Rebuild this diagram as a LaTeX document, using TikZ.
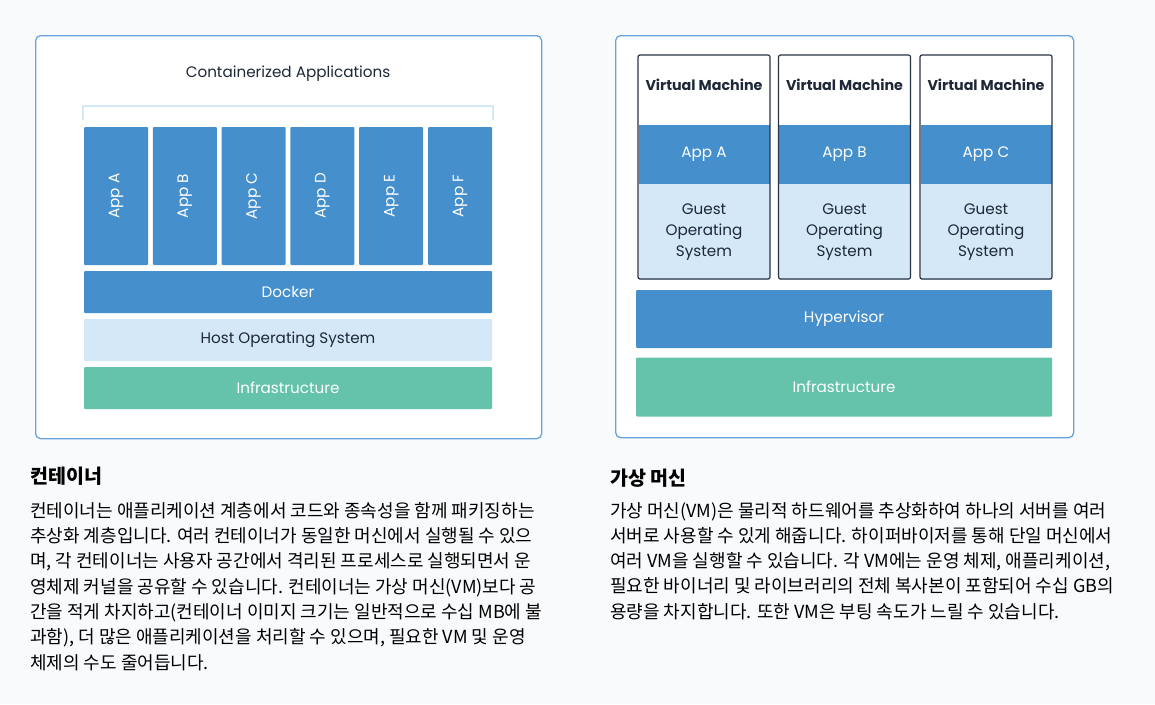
\documentclass[tikz,border=0pt]{standalone}
\usepackage{fontspec}
\setmainfont{Poppins}
\newfontfamily\krfont{Noto Sans CJK KR}
\usetikzlibrary{positioning}
\definecolor{pagebg}{RGB}{248,250,252}
\definecolor{panelline}{RGB}{104,163,222}
\definecolor{appblue}{RGB}{69,144,204}
\definecolor{paleblue}{RGB}{212,232,248}
\definecolor{infragreen}{RGB}{100,195,170}
\definecolor{inkdark}{RGB}{30,40,55}
\definecolor{vmline}{RGB}{40,52,68}

\begin{document}
\begin{tikzpicture}[x=1pt, y=-1pt,
        panel/.style={draw=panelline, line width=1.3pt, fill=white, rounded corners=5pt, inner sep=0pt},
        layer/.style={inner sep=0pt, rounded corners=1pt, font=\fontsize{15.2}{18}\selectfont},
        bluelayer/.style={layer, fill=appblue, text=white},
        palelayer/.style={layer, fill=paleblue, text=inkdark},
        greenlayer/.style={layer, fill=infragreen, text=white},
        vmframe/.style={draw=vmline, line width=1.2pt, rounded corners=2pt, inner sep=0pt, minimum width=132pt, minimum height=224pt},
        heading/.style={anchor=west, inner sep=0pt, text=black, font=\krfont\bfseries\fontsize{19.5}{24}\selectfont},
        bodytext/.style={anchor=north west, inner sep=0pt, align=left, text=black, font=\krfont\fontsize{18}{25.3}\selectfont}
    ]
    \useasboundingbox[fill=pagebg] (0,0) rectangle (1155,704);

    % containers
    \node[panel, anchor=north west, minimum width=506pt, minimum height=403pt] (cpanel) at (35,35) {};
    \node[text=inkdark, font=\fontsize{15.2}{18}\selectfont] (ctitle) at (288,74) {Containerized Applications};
    \draw[paleblue, line width=2.5pt] (83,120) -- (83,106) -- (493,106) -- (493,120);
    \foreach \n [count=\i from 0] in {A,B,C,D,E,F}
        \node[bluelayer, rotate=90, minimum width=138pt, minimum height=64pt] (app\n) at ({116+\i*68.8},196) {App \n};
    \node[bluelayer, minimum width=408pt, minimum height=42pt] (docker) at (288,292) {Docker};
    \node[palelayer, minimum width=408pt, minimum height=42pt] (hostos) at (288,340) {Host Operating System};
    \node[greenlayer, minimum width=408pt, minimum height=42pt] (cinfra) at (288,388) {Infrastructure};

    % virtual machines
    \node[panel, anchor=north west, minimum width=458pt, minimum height=402pt] (vpanel) at (615,35) {};
    \foreach \n/\x in {A/704,B/844.5,C/986} {
        \node[bluelayer, rounded corners=0pt, minimum width=131pt, minimum height=59pt] (vapp\n) at (\x,154.5) {App \n};
        \node[palelayer, rounded corners=0pt, minimum width=131pt, minimum height=96pt, align=center,
              font=\fontsize{15.2}{21}\selectfont] (guest\n) at (\x,232) {Guest\\Operating\\System};
        \node[vmframe] (vm\n) at (\x,167) {};
        \node[text=inkdark, font=\bfseries\fontsize{14.3}{18}\selectfont] (vmtitle\n) at (\x,85) {Virtual Machine};
    }
    \node[bluelayer, minimum width=416pt, minimum height=58pt] (hyper) at (844,319) {Hypervisor};
    \node[greenlayer, minimum width=416pt, minimum height=59pt] (vinfra) at (844,387) {Infrastructure};

    % descriptions
    \node[heading] (chead) at (30,476) {컨테이너};
    \node[bodytext] (cbody) at (30,502) {컨테이너는 애플리케이션 계층에서 코드와 종속성을 함께 패키징하는\\
        추상화 계층입니다. 여러 컨테이너가 동일한 머신에서 실행될 수 있으\\
        며, 각 컨테이너는 사용자 공간에서 격리된 프로세스로 실행되면서 운\\
        영체제 커널을 공유할 수 있습니다. 컨테이너는 가상 머신(VM)보다 공\\
        간을 적게 차지하고(컨테이너 이미지 크기는 일반적으로 수십 MB에 불\\
        과함), 더 많은 애플리케이션을 처리할 수 있으며, 필요한 VM 및 운영\\
        체제의 수도 줄어듭니다.};
    \node[heading] (vhead) at (610,478) {가상 머신};
    \node[bodytext] (vbody) at (610,502) {가상 머신(VM)은 물리적 하드웨어를 추상화하여 하나의 서버를 여러\\
        서버로 사용할 수 있게 해줍니다. 하이퍼바이저를 통해 단일 머신에서\\
        여러 VM을 실행할 수 있습니다. 각 VM에는 운영 체제, 애플리케이션,\\
        필요한 바이너리 및 라이브러리의 전체 복사본이 포함되어 수십 GB의\\
        용량을 차지합니다. 또한 VM은 부팅 속도가 느릴 수 있습니다.};
\end{tikzpicture}
\end{document}
